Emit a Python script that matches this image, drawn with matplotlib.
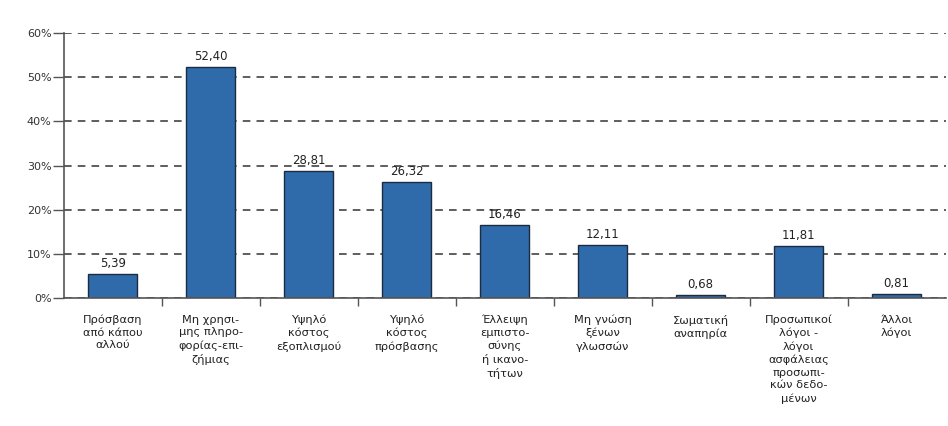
import matplotlib
matplotlib.use("Agg")
import matplotlib.pyplot as plt
from matplotlib.ticker import FixedLocator, NullFormatter

categories = [
    "Πρόσβαση\nαπό κάπου\nαλλού",
    "Μη χρησι-\nμης πληρο-\nφορίας-επι-\nζήμιας",
    "Υψηλό\nκόστος\nεξοπλισμού",
    "Υψηλό\nκόστος\nπρόσβασης",
    "Έλλειψη\nεμπιστο-\nσύνης\nή ικανο-\nτήτων",
    "Μη γνώση\nξένων\nγλωσσών",
    "Σωματική\nαναπηρία",
    "Προσωπικοί\nλόγοι -\nλόγοι\nασφάλειας\nπροσωπι-\nκών δεδο-\nμένων",
    "Άλλοι\nλόγοι",
]
values = [5.39, 52.40, 28.81, 26.32, 16.46, 12.11, 0.68, 11.81, 0.81]
yticks = [0, 10, 20, 30, 40, 50, 60]
ytick_labels = ["0%", "10%", "20%", "30%", "40%", "50%", "60%"]

plt.rcParams['font.family'] = ['DejaVu Sans']

fig = plt.figure(figsize=(9.48, 4.26), dpi=100)
ax = fig.add_axes([0.0675, 0.3005, 0.93, 0.622])

x = list(range(len(values)))
ax.set_axisbelow(True)
ax.yaxis.grid(True, linestyle=(0, (5, 4)), color="#333333", linewidth=1.1)
bars = ax.bar(x, values, width=0.5, color="#2F6BAA", edgecolor="#1b2b40", linewidth=1.0)

for xi, v in zip(x, values):
    ax.text(xi, v + 0.9, f"{v:.2f}".replace(".", ","), ha="center", va="bottom",
            fontsize=8.5, color="#222222")

ax.set_xlim(-0.5, len(values) - 0.5)
ax.set_ylim(0, 60)
ax.set_yticks(yticks)
ax.set_yticklabels(ytick_labels, fontsize=8, color="#333333")
ax.tick_params(axis="y", length=8, width=1, color="#555555", pad=1)

ax.set_xticks(x)
ax.set_xticklabels(categories, fontsize=8.2, color="#222222", linespacing=1.33)
ax.tick_params(axis="x", which="major", length=0, pad=12)
ax.xaxis.set_minor_locator(FixedLocator([i + 0.5 for i in range(len(values) - 1)]))
ax.xaxis.set_minor_formatter(NullFormatter())
ax.tick_params(axis="x", which="minor", length=6, width=1, color="#555555")

for s in ["top", "right"]:
    ax.spines[s].set_visible(False)
ax.spines["left"].set_color("#555555")
ax.spines["left"].set_linewidth(1.2)
ax.spines["bottom"].set_color("#555555")
ax.spines["bottom"].set_linewidth(1.2)

fig.savefig("out.png", dpi=100, facecolor="white")
